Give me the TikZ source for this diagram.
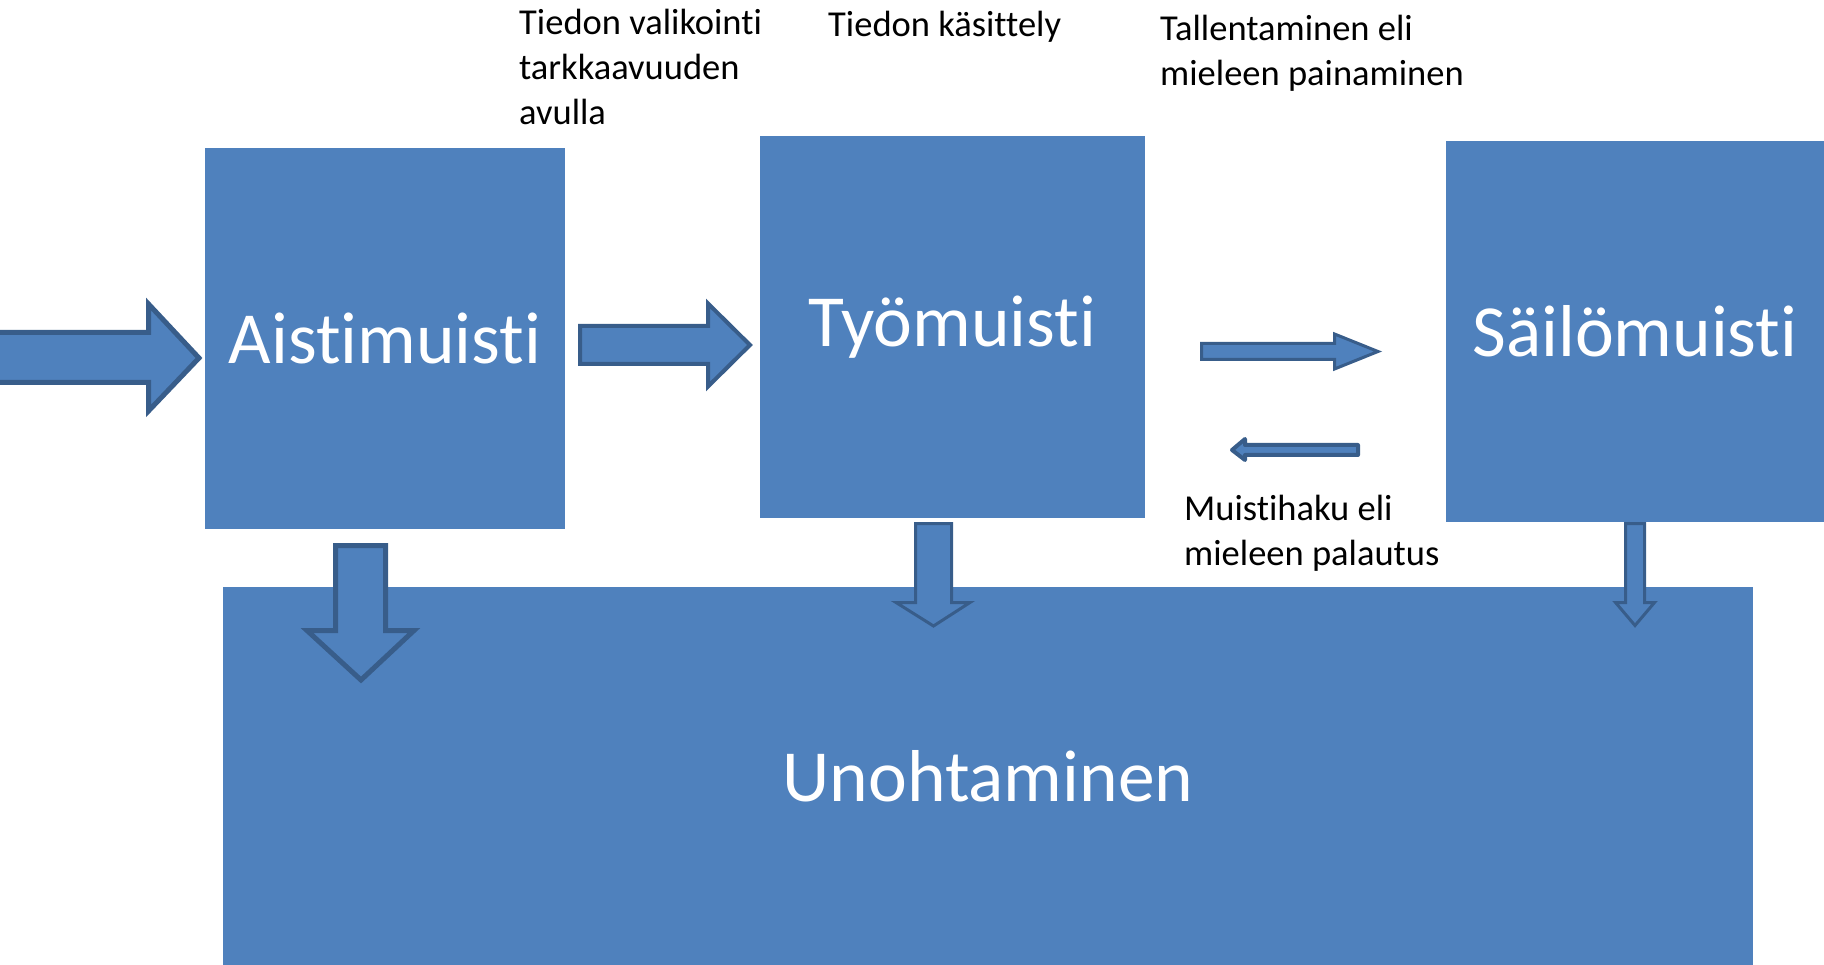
\documentclass[tikz,border=0pt]{standalone}
\usepackage{fontspec}
\setmainfont{Carlito}[Ligatures={NoCommon,NoContextual,NoRequired},Contextuals=NoAlternate]
\definecolor{boxblue}{HTML}{4F81BD}
\definecolor{edgeblue}{HTML}{385D8A}
\begin{document}
\begin{tikzpicture}[x=1pt,y=-1pt,
  memorybox/.style={fill=boxblue, draw=none, inner sep=0pt, text=white,
    font=\fontsize{73.5}{88}\selectfont},
  blockarrow/.style={fill=boxblue, draw=edgeblue},
  label/.style={inner sep=0pt, anchor=base west, align=left,
    font=\fontsize{36.5}{45}\selectfont}]
\useasboundingbox (0,0) rectangle (1824,965);
% boxes
\node[memorybox, minimum width=360pt, minimum height=381pt] (aisti) at (385,338.5) {Aistimuisti};
\node[memorybox, minimum width=385pt, minimum height=382pt] (tyo) at (952.5,327) {Työmuisti};
\node[memorybox, minimum width=378pt, minimum height=381pt] (sailo) at (1635,331.5) {Säilömuisti};
\node[memorybox, minimum width=1530pt, minimum height=378pt] (unoh) at (988,776) {Unohtaminen};
% block arrows
\draw[blockarrow, line width=5pt] (-10,332.5) -- (148.5,332.5) -- (148.5,304) -- (199,358)
  -- (148.5,411) -- (148.5,382.5) -- (-10,382.5) -- cycle;
\draw[blockarrow, line width=4pt] (580,326) -- (708,326) -- (708,303.5) -- (750,345)
  -- (708,386.5) -- (708,364) -- (580,364) -- cycle;
\draw[blockarrow, line width=3pt] (1201.5,343.5) -- (1334.5,343.5) -- (1334.5,334) -- (1378,351.5)
  -- (1334.5,369) -- (1334.5,359.5) -- (1201.5,359.5) -- cycle;
\draw[blockarrow, line width=4pt, line join=round] (1358,445) -- (1245,445) -- (1245,439) -- (1232,450)
  -- (1245,460) -- (1245,455) -- (1358,455) -- cycle;
\draw[blockarrow, line width=5pt] (335.5,545.5) -- (385.5,545.5) -- (385.5,630.5) -- (414,630.5)
  -- (361,680) -- (307,630.5) -- (335.5,630.5) -- cycle;
\draw[blockarrow, line width=3pt] (915.5,523.5) -- (951.5,523.5) -- (951.5,602.5) -- (970,602.5)
  -- (933.5,626) -- (896,602.5) -- (915.5,602.5) -- cycle;
\draw[blockarrow, line width=3pt] (1625.5,523.5) -- (1644.5,523.5) -- (1644.5,602.5) -- (1654.5,602.5)
  -- (1635,625.5) -- (1615.5,602.5) -- (1625.5,602.5) -- cycle;
% labels (base anchor = baseline of the last line)
\node[label] (valikointi) at (519,125) {Tiedon valikointi\\tarkkaavuuden\\avulla};
\node[label] (kasittely) at (828,37) {Tiedon käsittely};
\node[label] (tallennus) at (1160,85.5) {Tallentaminen eli\\mieleen painaminen};
\node[label] (haku) at (1184,565) {Muistihaku eli\\mieleen palautus};
\end{tikzpicture}
\end{document}
